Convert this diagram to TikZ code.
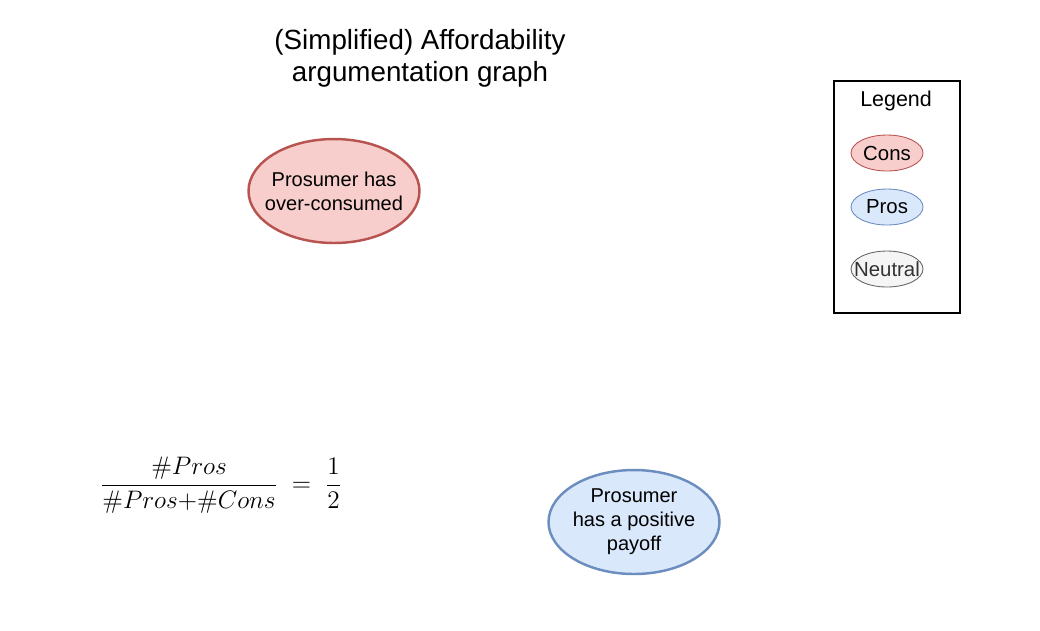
\documentclass[tikz,border=0pt]{standalone}
\usepackage[no-math]{fontspec}
\setmainfont{Liberation Sans}
\usetikzlibrary{shapes.geometric}
\definecolor{consfill}{HTML}{F8CECC}
\definecolor{consline}{HTML}{B85450}
\definecolor{prosfill}{HTML}{DAE8FC}
\definecolor{prosline}{HTML}{6C8EBF}
\definecolor{neutfill}{HTML}{F5F5F5}
\definecolor{neutline}{HTML}{666666}
\definecolor{neuttext}{HTML}{333333}
\tikzset{
  bigarg/.style={ellipse,draw,line width=1.4pt,minimum width=3.42cm,minimum height=2.08cm,inner sep=-30pt,align=center,font=\fontsize{11.4}{13.6}\selectfont},
  smallarg/.style={ellipse,draw,line width=0.5pt,minimum width=1.44cm,minimum height=0.72cm,inner sep=-20pt,font=\fontsize{11.6}{13}\selectfont}
}
\begin{document}
\begin{tikzpicture}[x=0.02cm,y=-0.02cm]
    \useasboundingbox (0,0) rectangle (1040,630);
    \node (title) [align=center,font=\fontsize{15.8}{18.2}\selectfont] at (420,58) {(Simplified) Affordability\\argumentation graph};
    \node (overcons) [bigarg,draw=consline,fill=consfill] at (334,191) {Prosumer has\\over-consumed};
    \node (payoff) [bigarg,draw=prosline,fill=prosfill] at (634,522) {Prosumer\\has a positive\\payoff};
    % legend
    \draw[line width=0.6pt] (834,81) rectangle (960,313);
    \node (legend) [font=\fontsize{12.2}{14}\selectfont] at (896,101) {Legend};
    \node (cons) [smallarg,draw=consline,fill=consfill] at (887,153) {Cons};
    \node (pros) [smallarg,draw=prosline,fill=prosfill] at (887,207) {Pros};
    \node (neutral) [smallarg,draw=neutline,fill=neutfill,text=neuttext] at (887,269) {Neutral};
    \node (ratio) [font=\fontsize{13.4}{16}\selectfont] at (221,485) {$\displaystyle\frac{\#Pros}{\#Pros{+}\#Cons}\;=\;\frac{1}{2}$};
\end{tikzpicture}
\end{document}
